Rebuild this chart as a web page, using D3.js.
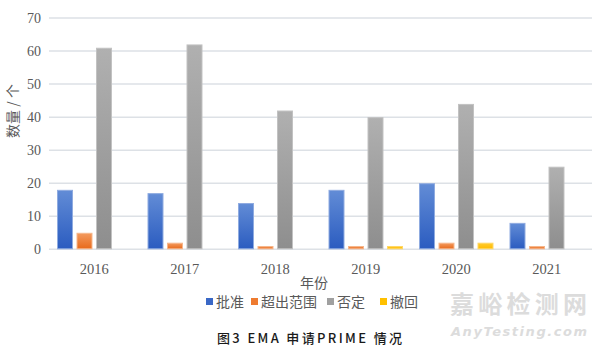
<!DOCTYPE html>
<html>
<head>
<meta charset="utf-8">
<script src="https://cdn.jsdelivr.net/npm/d3@7"></script>
<style>
  html, body { margin: 0; padding: 0; background: #fff; }
  svg { display: block; }
  .num { font-family: "Liberation Serif", "DejaVu Serif", serif; }
</style>
</head>
<body>
<svg id="chart" width="600" height="348"></svg>
<script>
// EMA PRIME applications by year and outcome
const years = ["2016", "2017", "2018", "2019", "2020", "2021"];
const seriesNames = ["批准", "超出范围", "否定", "撤回"];
const approved   = [18, 17, 14, 18, 20, 8];
const outOfScope = [5, 2, 1, 1, 2, 1];
const rejected   = [61, 62, 42, 40, 44, 25];
const withdrawn  = [0, 0, 0, 1, 2, 0];
const yTicks = [0, 10, 20, 30, 40, 50, 60, 70];

const seriesValues = [approved, outOfScope, rejected, withdrawn];
const colors = [
  { top: "#628cd6", bottom: "#2b5cc0", edge: "#8fabe0", flat: "#3a68c6" },
  { top: "#f39a5e", bottom: "#e86a1c", edge: "#f6b68b", flat: "#ee7b30" },
  { top: "#b0b0b0", bottom: "#8e8e8e", edge: "#c2c2c2", flat: "#a0a0a0" },
  { top: "#ffcb2e", bottom: "#ffbb00", edge: "#ffd766", flat: "#ffc000" }
];

const svg = d3.select("#chart");
const plot = { left: 49, right: 592, top: 18, bottom: 249.3 };

const x0 = d3.scaleBand().domain(years)
  .range([plot.left, plot.right]).paddingInner(0.177).paddingOuter(0.0885);
const x1 = d3.scaleBand().domain(seriesNames)
  .range([0, x0.bandwidth()]).paddingInner(0.18).paddingOuter(0);
const y = d3.scaleLinear().domain([0, 70]).range([plot.bottom, plot.top]);

// gradients
const defs = svg.append("defs");
colors.forEach((c, i) => {
  const g = defs.append("linearGradient").attr("id", "grad" + i)
    .attr("x1", 0).attr("y1", 0).attr("x2", 0).attr("y2", 1);
  g.append("stop").attr("offset", "0%").attr("stop-color", c.top);
  g.append("stop").attr("offset", "100%").attr("stop-color", c.bottom);
});

// gridlines
svg.append("g").selectAll("line").data(yTicks).join("line")
  .attr("x1", plot.left).attr("x2", plot.right)
  .attr("y1", d => y(d)).attr("y2", d => y(d))
  .attr("stroke", "#dde1e6").attr("stroke-width", 1.5);

// y axis labels
const yAxis = d3.axisLeft(y).tickValues(yTicks).tickSize(0).tickPadding(8);
const yg = svg.append("g").attr("transform", `translate(${plot.left},0)`).call(yAxis);
yg.attr("font-family", null).attr("font-size", null);
yg.select(".domain").remove();
yg.selectAll("text").attr("class", "num")
  .style("font-size", "14px").attr("fill", "#595959");

// x axis labels
const xAxis = d3.axisBottom(x0).tickSize(0).tickPadding(14);
const xg = svg.append("g").attr("transform", `translate(0,${plot.bottom})`).call(xAxis);
xg.attr("font-family", null).attr("font-size", null);
xg.select(".domain").remove();
xg.selectAll("text").attr("class", "num")
  .style("font-size", "14.5px").attr("fill", "#595959");

// bars
const groups = svg.append("g").selectAll("g").data(years).join("g")
  .attr("transform", d => `translate(${x0(d)},0)`);
groups.selectAll("rect")
  .data((yr, yi) => seriesNames.map((s, si) => ({ s, si, v: seriesValues[si][yi] })))
  .join("rect")
  .filter(d => d.v > 0)
  .attr("x", d => x1(d.s) + 0.5)
  .attr("width", x1.bandwidth() - 1)
  .attr("y", d => y(d.v) + 0.5)
  .attr("height", d => Math.max(0, y(0) - y(d.v) - 1))
  .attr("fill", d => `url(#grad${d.si})`)
  .attr("stroke", d => colors[d.si].edge)
  .attr("stroke-width", 1);

// axis titles
svg.append("text")
  .attr("transform", "translate(18,111) rotate(-90)")
  .attr("text-anchor", "middle")
  .attr("font-family", "'Noto Sans CJK SC', sans-serif")
  .attr("font-size", 14).attr("fill", "#595959")
  .text("数量 / 个");

svg.append("text")
  .attr("x", 314).attr("y", 288)
  .attr("text-anchor", "middle")
  .attr("font-family", "'Noto Sans CJK SC', sans-serif")
  .attr("font-size", 14).attr("fill", "#595959")
  .text("年份");

// legend
const legendX = [206, 251, 327, 380];
const legend = svg.append("g").selectAll("g").data(seriesNames).join("g")
  .attr("transform", (d, i) => `translate(${legendX[i]},302)`);
legend.append("rect")
  .attr("x", 0).attr("y", -4).attr("width", 7).attr("height", 7)
  .attr("fill", (d, i) => colors[i].flat);
legend.append("text")
  .attr("x", 10).attr("y", 5)
  .attr("font-family", "'Noto Sans CJK SC', sans-serif")
  .attr("font-size", 14).attr("fill", "#595959")
  .text(d => d);

// caption
svg.append("text")
  .attr("x", 217).attr("y", 343)
  .attr("font-family", "'Noto Sans CJK SC', sans-serif")
  .attr("font-size", 13).attr("font-weight", 500)
  .attr("textLength", 185).attr("lengthAdjust", "spacing")
  .attr("fill", "#1a1a1a")
  .text("图3 EMA 申请PRIME 情况");

// site mark
svg.append("text")
  .attr("x", 450).attr("y", 313)
  .attr("font-family", "'Noto Sans CJK SC', sans-serif")
  .attr("font-size", 24).attr("font-weight", "bold").attr("fill", "#dcdcdc")
  .attr("textLength", 137)
  .text("嘉峪检测网");
svg.append("text")
  .attr("x", 451).attr("y", 336)
  .attr("font-family", "'DejaVu Sans', sans-serif")
  .attr("font-size", 13).attr("font-weight", "bold").attr("font-style", "italic")
  .attr("fill", "#dcdcdc").attr("textLength", 136)
  .text("AnyTesting.com");
</script>
</body>
</html>
